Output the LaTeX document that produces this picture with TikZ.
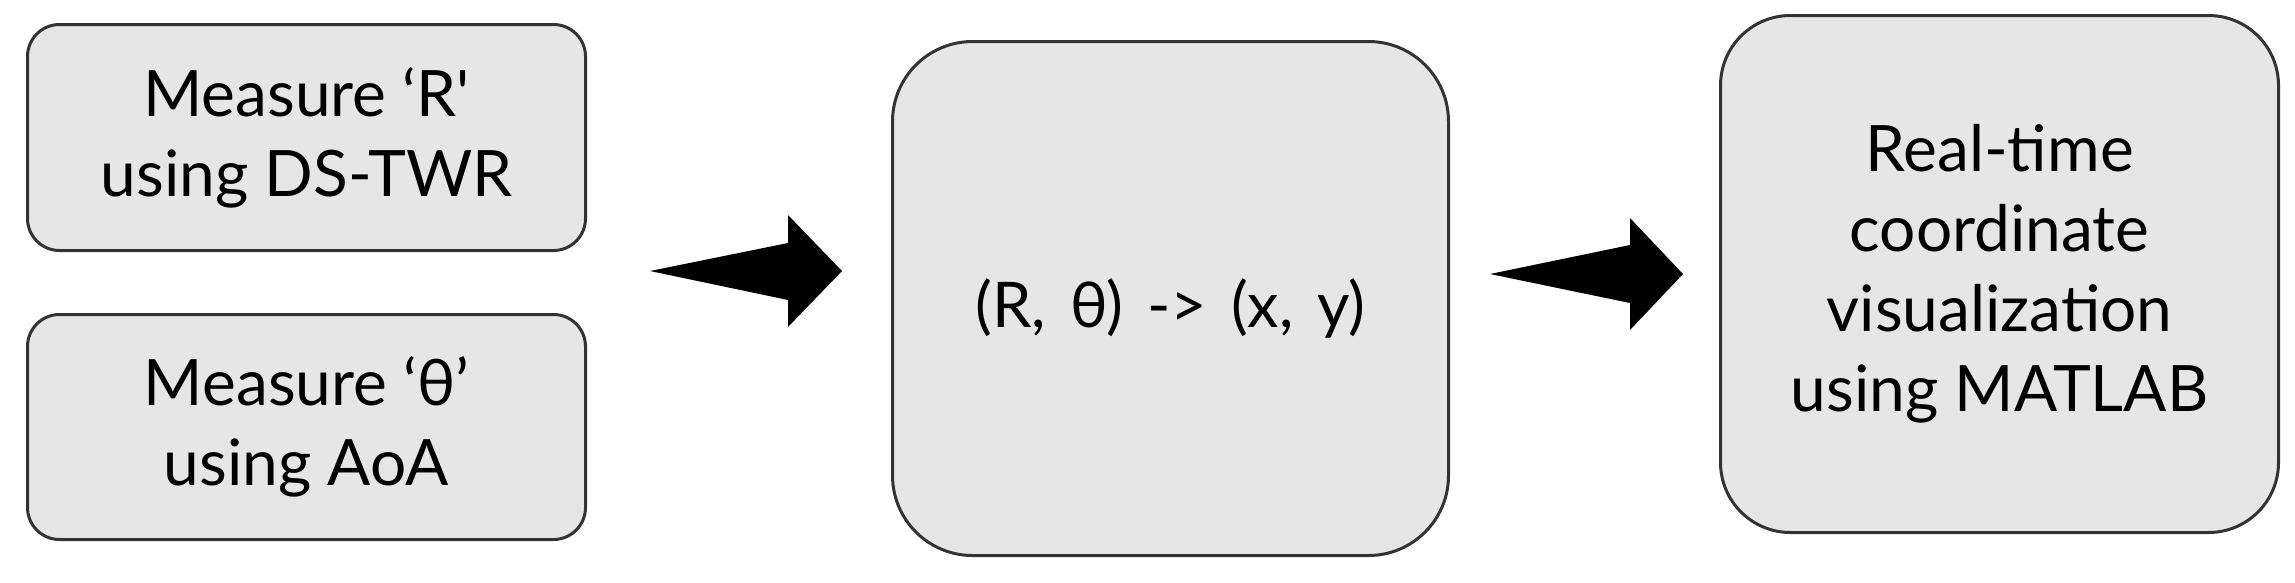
\documentclass[tikz,border=0pt]{standalone}
\usepackage{fontspec}
\newfontfamily\lato{Lato}
\definecolor{boxfill}{HTML}{E6E6E6}
\definecolor{boxline}{HTML}{333333}
\newcommand\widespaces{\spaceskip=0.38em\relax}
\tikzset{
  stepbox/.style={draw=boxline, fill=boxfill, line width=3pt, align=center,
    inner sep=0pt, font=\lato\fontsize{64}{80}\selectfont},
  fatarrow/.style={fill=black, draw=none}
}
\begin{document}
\begin{tikzpicture}[x=1pt,y=-1pt]
\useasboundingbox (0,0) rectangle (2295,582);
\node[stepbox, rounded corners=32pt, minimum width=558pt, minimum height=226pt] (r) at (306.5,137.5) {Measure ‘R'\\using DS-TWR};
\node[stepbox, rounded corners=32pt, minimum width=558pt, minimum height=225pt] (t) at (306.5,427) {Measure ‘θ’\\using AoA};
\node[stepbox, rounded corners=80pt, minimum width=556pt, minimum height=514pt] (c) at (1170.5,298.5) {};
\node[inner sep=0pt, font=\lato\fontsize{63}{70}\selectfont\widespaces] (ct) at ([yshift=-10pt]c.center) {(R, θ) -> (x, y)};
\node[stepbox, rounded corners=70pt, minimum width=558pt, minimum height=517pt] (v) at (1999.5,274) {Real-time\\coordinate\\visualization\\using MATLAB};
% arrows
\coordinate (a1) at (650,271);
\coordinate (a2) at (1490,274);
\fill[fatarrow] (a1) -- ++(138,-28) -- ++(0,-28) -- ++(54,56) -- ++(-54,56) -- ++(0,-27) -- cycle;
\fill[fatarrow] (a2) -- ++(140,-29) -- ++(0,-27) -- ++(53,56) -- ++(-53,56) -- ++(0,-27) -- cycle;
\end{tikzpicture}
\end{document}
